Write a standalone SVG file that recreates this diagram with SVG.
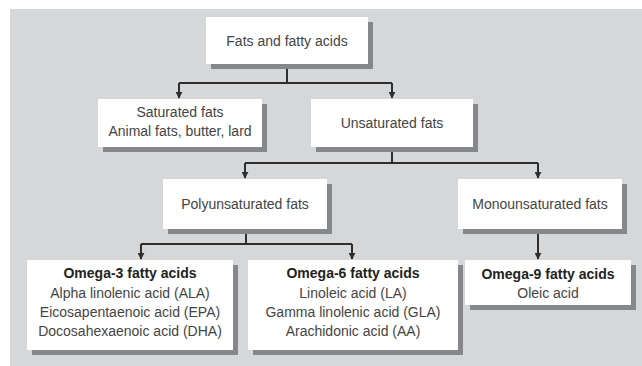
<svg xmlns="http://www.w3.org/2000/svg" width="642" height="366" viewBox="0 0 642 366">
  <defs>
    <marker id="arr" viewBox="0 0 10 10" refX="9" refY="5" markerWidth="3.5" markerHeight="3.5" orient="auto">
      <path d="M0,0 L10,5 L0,10 z" fill="#2e2e2e"/>
    </marker>
  </defs>
  <style>
    .shadow { fill: #85878a; }
    .box { fill: #ffffff; }
    .t { font-family: "Liberation Sans", Arial, sans-serif; font-size: 14px; fill: #444444; text-anchor: middle; }
    .b { font-weight: bold; fill: #222222; }
    .conn { fill: none; stroke: #2e2e2e; stroke-width: 2; }
  </style>
  <rect x="10" y="9" width="632" height="357" fill="#d5d7d9"/>

  <g id="connectors">
    <path class="conn" d="M287,69 V83"/>
    <path class="conn" d="M179,83 H392"/>
    <path class="conn" d="M179,83 V98" marker-end="url(#arr)"/>
    <path class="conn" d="M392,83 V98" marker-end="url(#arr)"/>
    <path class="conn" d="M392,152 V163"/>
    <path class="conn" d="M245,163 H538"/>
    <path class="conn" d="M245,163 V178" marker-end="url(#arr)"/>
    <path class="conn" d="M538,163 V178" marker-end="url(#arr)"/>
    <path class="conn" d="M246,234 V244"/>
    <path class="conn" d="M141,244 H352"/>
    <path class="conn" d="M141,244 V259" marker-end="url(#arr)"/>
    <path class="conn" d="M352,244 V259" marker-end="url(#arr)"/>
    <path class="conn" d="M538,234 V259" marker-end="url(#arr)"/>
  </g>

  <g id="fats">
    <rect class="shadow" x="211" y="22" width="162" height="47"/>
    <rect class="box" x="206" y="17" width="162" height="47"/>
    <text class="t" x="287" y="46">Fats and fatty acids</text>
  </g>

  <g id="saturated">
    <rect class="shadow" x="103" y="104" width="164" height="48"/>
    <rect class="box" x="98" y="99" width="164" height="48"/>
    <text class="t" x="180" y="117">Saturated fats</text>
    <text class="t" x="180" y="136">Animal fats, butter, lard</text>
  </g>

  <g id="unsaturated">
    <rect class="shadow" x="316" y="104" width="162" height="48"/>
    <rect class="box" x="311" y="99" width="162" height="48"/>
    <text class="t" x="392" y="128">Unsaturated fats</text>
  </g>

  <g id="poly">
    <rect class="shadow" x="168" y="184" width="164" height="50"/>
    <rect class="box" x="163" y="179" width="164" height="50"/>
    <text class="t" x="245" y="209">Polyunsaturated fats</text>
  </g>

  <g id="mono">
    <rect class="shadow" x="463" y="184" width="164" height="50"/>
    <rect class="box" x="458" y="179" width="164" height="50"/>
    <text class="t" x="540" y="209">Monounsaturated fats</text>
  </g>

  <g id="omega3">
    <rect class="shadow" x="32" y="265" width="206" height="90"/>
    <rect class="box" x="27" y="260" width="206" height="90"/>
    <text class="t b" x="130" y="278">Omega-3 fatty acids</text>
    <text class="t" x="130" y="298">Alpha linolenic acid (ALA)</text>
    <text class="t" x="130" y="317">Eicosapentaenoic acid (EPA)</text>
    <text class="t" x="130" y="336">Docosahexaenoic acid (DHA)</text>
  </g>

  <g id="omega6">
    <rect class="shadow" x="253" y="265" width="210" height="90"/>
    <rect class="box" x="248" y="260" width="210" height="90"/>
    <text class="t b" x="353" y="278">Omega-6 fatty acids</text>
    <text class="t" x="353" y="298">Linoleic acid (LA)</text>
    <text class="t" x="353" y="317">Gamma linolenic acid (GLA)</text>
    <text class="t" x="353" y="336">Arachidonic acid (AA)</text>
  </g>

  <g id="omega9">
    <rect class="shadow" x="470" y="265" width="166" height="45"/>
    <rect class="box" x="465" y="260" width="166" height="45"/>
    <text class="t b" x="548" y="279">Omega-9 fatty acids</text>
    <text class="t" x="548" y="298">Oleic acid</text>
  </g>
</svg>
